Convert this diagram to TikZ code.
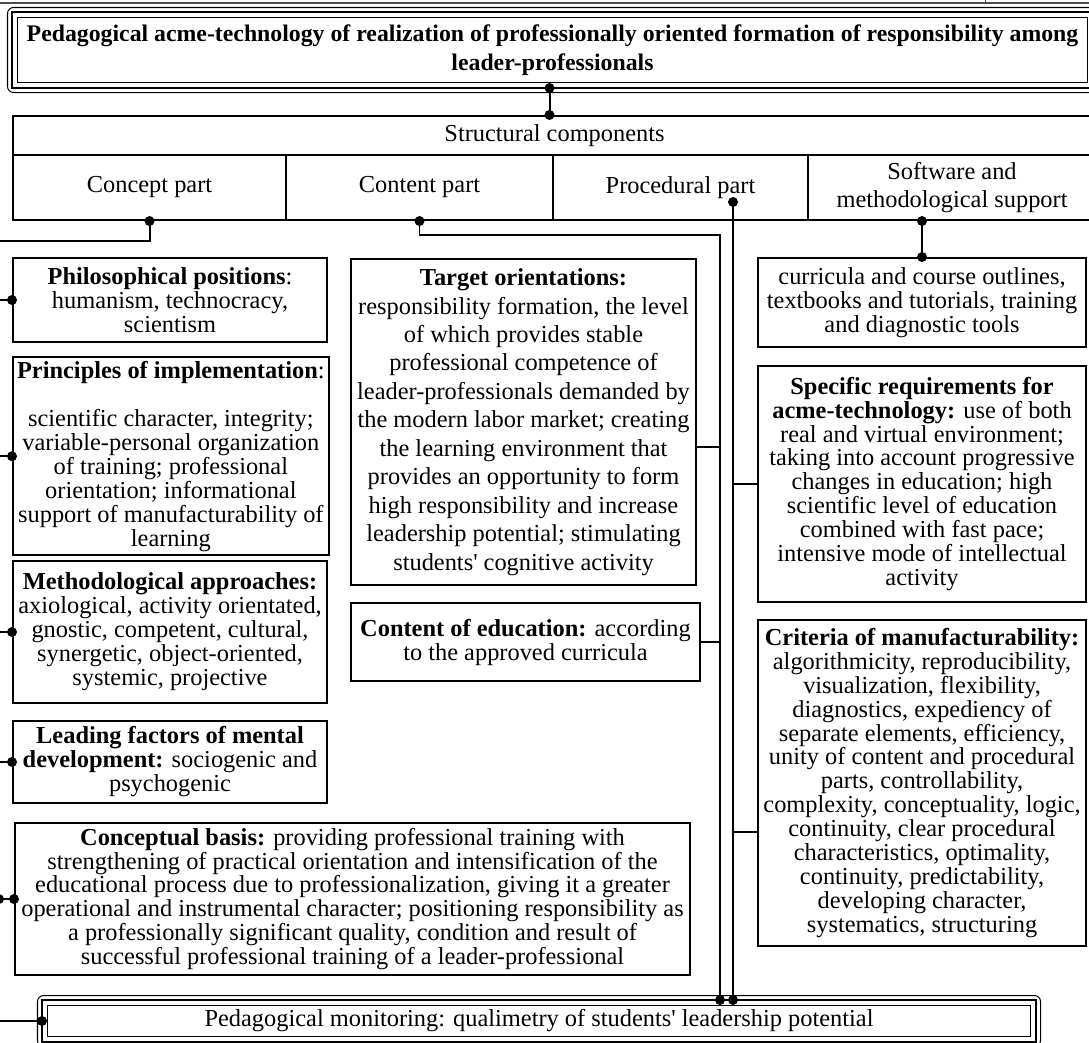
\documentclass[tikz,border=0pt]{standalone}
\usepackage{fontspec}
\setmainfont{Liberation Serif}[Ligatures=TeXOff]
\usetikzlibrary{calc}
\tikzset{
	box/.style={draw, line width=1pt, align=center, inner sep=2pt, anchor=north west, font=\fontsize{12}{11.8}\selectfont},
	boxsize/.style 2 args={minimum width=#1*0.492pt, minimum height=#2*0.492pt},
	wire/.style={line width=1pt},
}
\def\tripleframe(#1){%
	\draw[line width=1.3pt] ([shift={(-5,-5)}]#1.north west) rectangle ([shift={(5,5)}]#1.south east);
	\draw[line width=0.5pt, rounded corners=3pt] ([shift={(-9.5,-9.5)}]#1.north west) rectangle ([shift={(9.5,9.5)}]#1.south east);}
\def\jdot(#1){\fill (#1) circle (5);}

\begin{document}
\begin{tikzpicture}[x=0.492pt, y=-0.492pt]
			%%%%% START %%%%%
			\useasboundingbox (0,0) rectangle (1089,1043);
			\draw[line width=0.5pt, black!70] (0,3) -- (1089,3);
			\draw[line width=0.5pt, black!70] (985,0) -- (985,3);
			
			% title
			\node[box, line width=0.5pt, boxsize={1070}{65}, inner sep=1pt, font=\bfseries\fontsize{11.7}{14.3}\selectfont] (title) at (17,17)
				{Pedagogical acme-technology of realization of professionally oriented formation of responsibility among\\leader-professionals};
			\tripleframe(title)
			
			% structural components
			\node[box, boxsize={1083}{39}] (struct) at (12,115) {Structural components};
			\node[box, boxsize={273}{65}] (concept) at (12,154) {Concept part};
			\node[box, boxsize={267}{65}] (content) at (285,154) {Content part};
			\node[box, boxsize={255}{65}] (procedural) at (552,154) {Procedural part};
			\node[box, boxsize={288}{65}, font=\fontsize{12}{13.8}\selectfont] (software) at (807,154) {Software and\\methodological support};
			
			% concept part
			\node[box, boxsize={314}{84}] (phil) at (12,257)
				{\textbf{Philosophical positions}:\\humanism, technocracy,\\scientism};
			\node[box, boxsize={314}{189}] (princ) at (12,356)
				{\textbf{Principles of implementation}:\\[11.8pt]scientific character, integrity;\\variable-personal organization\\of training; professional\\orientation; informational\\support of manufacturability of\\learning};
			\node[box, boxsize={314}{142}] (meth) at (12,560)
				{\textbf{Methodological approaches:}\\axiological, activity orientated,\\gnostic, competent, cultural,\\synergetic, object-oriented,\\systemic, projective};
			\node[box, boxsize={314}{82}] (lead) at (12,720)
				{\textbf{Leading factors of mental}\\\textbf{development:} sociogenic and\\psychogenic};
			\node[box, boxsize={675}{152}] (basis) at (14,822)
				{\textbf{Conceptual basis:} providing professional training with\\strengthening of practical orientation and intensification of the\\educational process due to professionalization, giving it a greater\\operational and instrumental character; positioning responsibility as\\a professionally significant quality, condition and result of\\successful professional training of a leader-professional};
			
			% content part
			\node[box, boxsize={345}{326}, font=\fontsize{12}{14}\selectfont] (target) at (350,258)
				{\textbf{Target orientations:}\\responsibility formation, the level\\of which provides stable\\professional competence of\\leader-professionals demanded by\\the modern labor market; creating\\the learning environment that\\provides an opportunity to form\\high responsibility and increase\\leadership potential; stimulating\\students' cognitive activity};
			\node[box, boxsize={349}{78}] (edu) at (350,602)
				{\textbf{Content of education:} according\\to the approved curricula};
			
			% procedural part and support
			\node[box, boxsize={328}{89}] (curr) at (757,257)
				{curricula and course outlines,\\textbooks and tutorials, training\\and diagnostic tools};
			\node[box, boxsize={328}{236}] (spec) at (757,365)
				{\textbf{Specific requirements for}\\\textbf{acme-technology:} use of both\\real and virtual environment;\\taking into account progressive\\changes in education; high\\scientific level of education\\combined with fast pace;\\intensive mode of intellectual\\activity};
			\node[box, boxsize={328}{326}] (crit) at (757,619)
				{\textbf{Criteria of manufacturability:}\\algorithmicity, reproducibility,\\visualization, flexibility,\\diagnostics, expediency of\\separate elements, efficiency,\\unity of content and procedural\\parts, controllability,\\complexity, conceptuality, logic,\\continuity, clear procedural\\characteristics, optimality,\\continuity, predictability,\\developing character,\\systematics, structuring};
			
			% monitoring
			\node[box, line width=0.5pt, boxsize={983}{31}] (mon) at (47,1005)
				{Pedagogical monitoring: qualimetry of students' leadership potential};
			\tripleframe(mon)
			
			% connectors
			\coordinate (tdot) at ([shift={(-3,5)}]title.south);
			\draw[wire] (tdot) -- (tdot |- struct.north);
			\jdot(tdot) \jdot(tdot |- struct.north)
			
			\coordinate (busL) at (-1,241);
			\draw[wire] (concept.south) |- (busL) -- (busL |- mon.west);
			\jdot(concept.south)
			\foreach \b in {phil,princ,meth,lead,basis}{
				\draw[wire] (busL |- \b.west) -- (\b.west);
				\jdot(\b.west)
			}
			\jdot(busL |- basis.west)
			\coordinate (mdot) at ([shift={(-5,0)}]mon.west);
			\draw[wire] (busL |- mdot) -- (mdot);
			\jdot(mdot)
			
			\coordinate (cbus) at (720,1000);
			\draw[line width=0.8pt] (content.south) -- ++(0,14) -| (cbus);
			\jdot(content.south) \jdot(cbus)
			\coordinate (tgt) at ([shift={(0,25)}]target.east);
			\draw[wire] (tgt) -- (tgt -| cbus);
			\draw[wire] (edu.east) -- (edu.east -| cbus);
			
			\coordinate (ptop) at (733,202);
			\coordinate (pbus) at (733,1000);
			\draw[line width=1.3pt] (ptop) -- (pbus);
			\jdot(ptop) \jdot(pbus)
			\draw[wire] (spec.west) -- (spec.west -| pbus);
			\coordinate (crt) at ([shift={(0,49)}]crit.west);
			\draw[wire] (crt) -- (crt -| pbus);
			
			\draw[line width=1.3pt] (curr.north) -- (curr.north |- software.south);
			\jdot(curr.north) \jdot(curr.north |- software.south)
			%%%%% END %%%%%
\end{tikzpicture}
\end{document}
